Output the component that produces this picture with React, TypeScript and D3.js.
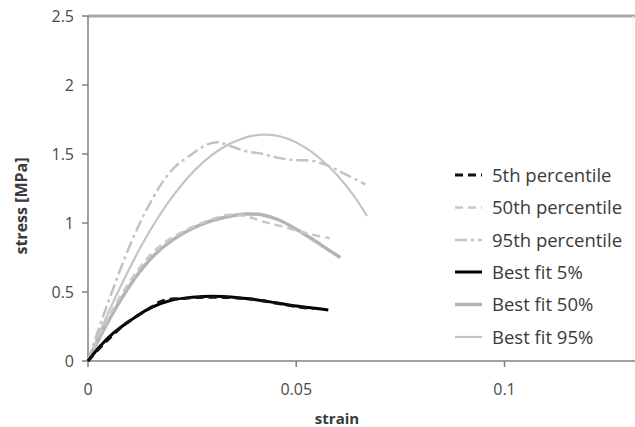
import React from "react";
import * as d3 from "d3";

const yTicks = [0, 0.5, 1, 1.5, 2, 2.5];
const xTicks = [0, 0.05, 0.1];

const p5Strain = [0, 0.003, 0.006, 0.009, 0.012, 0.015, 0.017, 0.019, 0.022, 0.025, 0.028, 0.032, 0.036, 0.04, 0.045, 0.05, 0.054];
const p5Stress = [0, 0.1, 0.19, 0.27, 0.33, 0.385, 0.425, 0.445, 0.452, 0.458, 0.462, 0.462, 0.456, 0.445, 0.42, 0.395, 0.378];

const p50Strain = [0, 0.004, 0.008, 0.012, 0.016, 0.02, 0.025, 0.03, 0.034, 0.038, 0.042, 0.046, 0.05, 0.054, 0.058];
const p50Stress = [0, 0.26, 0.48, 0.66, 0.8, 0.89, 0.97, 1.03, 1.06, 1.05, 1.01, 0.98, 0.945, 0.915, 0.89];

const p95Strain = [0, 0.003, 0.006, 0.009, 0.012, 0.015, 0.018, 0.021, 0.025, 0.028, 0.031, 0.034, 0.038, 0.042, 0.046, 0.05, 0.054, 0.058, 0.062, 0.0666];
const p95Stress = [0, 0.27, 0.52, 0.76, 0.97, 1.15, 1.3, 1.41, 1.5, 1.56, 1.585, 1.56, 1.52, 1.5, 1.47, 1.455, 1.45, 1.41, 1.35, 1.28];

const fit5Strain = [0, 0.003, 0.006, 0.01, 0.015, 0.02, 0.025, 0.03, 0.035, 0.04, 0.045, 0.05, 0.055, 0.0577];
const fit5Stress = [0, 0.11, 0.2, 0.29, 0.385, 0.44, 0.462, 0.47, 0.462, 0.445, 0.422, 0.398, 0.38, 0.37];

const fit50Strain = [0, 0.004, 0.008, 0.012, 0.016, 0.02, 0.025, 0.03, 0.035, 0.038, 0.042, 0.046, 0.05, 0.054, 0.058, 0.0606];
const fit50Stress = [0, 0.24, 0.45, 0.63, 0.77, 0.87, 0.96, 1.02, 1.055, 1.065, 1.058, 1.02, 0.955, 0.88, 0.8, 0.75];

const fit95Strain = [0, 0.004, 0.008, 0.012, 0.016, 0.02, 0.024, 0.028, 0.032, 0.036, 0.04, 0.044, 0.048, 0.052, 0.056, 0.06, 0.064, 0.067];
const fit95Stress = [0, 0.29, 0.55, 0.79, 1.0, 1.18, 1.33, 1.45, 1.54, 1.6, 1.635, 1.638, 1.61, 1.55, 1.46, 1.34, 1.19, 1.05];

const seriesNames = ["5th percentile", "50th percentile", "95th percentile", "Best fit 5%", "Best fit 50%", "Best fit 95%"];

const series = [
  { name: seriesNames[0], xs: p5Strain, ys: p5Stress, color: "#111", width: 3, dash: "8,5" },
  { name: seriesNames[1], xs: p50Strain, ys: p50Stress, color: "#c8c8c8", width: 2.5, dash: "8,5" },
  { name: seriesNames[2], xs: p95Strain, ys: p95Stress, color: "#c2c2c2", width: 2.5, dash: "12,4,3,4" },
  { name: seriesNames[3], xs: fit5Strain, ys: fit5Stress, color: "#000", width: 3, dash: "" },
  { name: seriesNames[4], xs: fit50Strain, ys: fit50Stress, color: "#b4b4b4", width: 3.5, dash: "" },
  { name: seriesNames[5], xs: fit95Strain, ys: fit95Stress, color: "#c4c4c4", width: 2.2, dash: "" },
];

const drawOrder = [5, 2, 4, 1, 3, 0];

export default function App() {
  const W = 635, H = 427;
  const x = d3.scaleLinear().domain([0, 0.1]).range([88, 504.5]);
  const y = d3.scaleLinear().domain([0, 2.5]).range([361, 16]);
  const line = d3.line<[number, number]>().x(d => x(d[0])).y(d => y(d[1])).curve(d3.curveCatmullRom.alpha(0.5));
  const font = "'Open Sans', sans-serif";
  const legendY = [175, 207.5, 240, 272, 304.5, 337];

  return (
    <svg width={W} height={H} style={{ position: "absolute", left: 0, top: 0, background: "#fff" }} fontFamily={font}>
      <rect width={W} height={H} fill="#fff" />
      {/* top border */}
      <line x1={88} x2={W} y1={y(2.5)} y2={y(2.5)} stroke="#a8a8a8" strokeWidth={3} />
      <line x1={633} x2={633} y1={y(2.5)} y2={y(0)} stroke="#f0f0f0" strokeWidth={1} />
      {/* axes */}
      <line x1={x(0)} x2={x(0)} y1={y(2.5)} y2={y(0)} stroke="#808080" strokeWidth={1.5} />
      <line x1={x(0)} x2={W} y1={y(0)} y2={y(0)} stroke="#808080" strokeWidth={1.5} />
      {yTicks.map(t => (
        <g key={"y" + t}>
          <line x1={x(0) - 6} x2={x(0)} y1={y(t)} y2={y(t)} stroke="#808080" strokeWidth={1.5} />
          <text x={74} y={y(t)} dy="0.36em" textAnchor="end" fontSize={16} fill="#4a4a4a">{String(t)}</text>
        </g>
      ))}
      {xTicks.map(t => (
        <g key={"x" + t}>
          <line x1={x(t)} x2={x(t)} y1={y(0)} y2={y(0) + 6} stroke="#808080" strokeWidth={1.5} />
          <text x={x(t)} y={395} textAnchor="middle" fontSize={16} fill="#4a4a4a">{String(t)}</text>
        </g>
      ))}
      <text x={337} y={424} textAnchor="middle" fontSize={15} fontWeight="bold" fill="#3a3a3a">strain</text>
      <text transform="translate(27,206) rotate(-90)" textAnchor="middle" fontSize={16} fontWeight="bold" fill="#3a3a3a">stress [MPa]</text>
      {drawOrder.map(i => {
        const s = series[i];
        const pts = s.xs.map((v, k) => [v, s.ys[k]] as [number, number]);
        return (
          <path key={s.name} d={line(pts) || ""} fill="none" stroke={s.color} strokeWidth={s.width}
            strokeDasharray={s.dash || undefined} strokeLinejoin="round" />
        );
      })}
      {series.map((s, i) => (
        <g key={"lg" + i}>
          <line x1={455} x2={482} y1={legendY[i]} y2={legendY[i]} stroke={s.color} strokeWidth={s.width}
            strokeDasharray={s.dash || undefined} />
          <text x={492} y={legendY[i]} dy="0.36em" fontSize={18.5} fill="#3a3a3a">{s.name}</text>
        </g>
      ))}
    </svg>
  );
}
